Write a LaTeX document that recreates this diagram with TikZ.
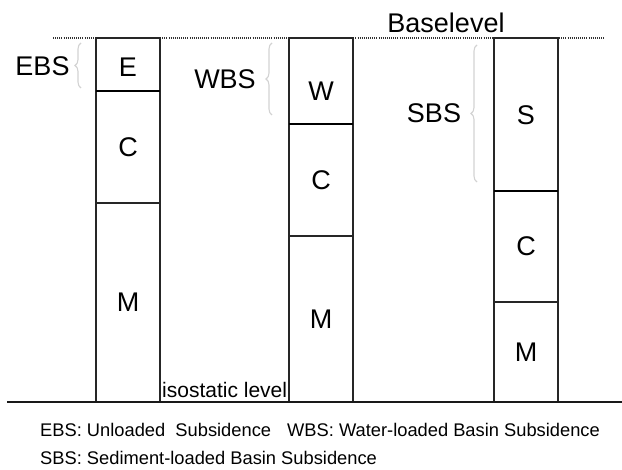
\documentclass[tikz,border=0pt]{standalone}
\usepackage{fontspec}
\setmainfont{Liberation Sans}
\usepackage{xcolor}
\usepackage{tikz}
\usetikzlibrary{decorations.pathreplacing, positioning}
\tikzset{
  borde/.style={draw=black!85, line width=1.3pt},
  capa/.style={font=\fontsize{27}{31}\selectfont, inner sep=0pt},
  llave/.style={draw=gray!35, line width=1.1pt,
    decorate, decoration={brace, amplitude=6pt}},
  leyenda/.style={font=\fontsize{18.3}{21}\selectfont, anchor=base west, inner sep=0pt}
}
\newcommand{\columna}[6]{%
  \draw[borde] (#2,38) rectangle (#2+64,402);
  \draw[line width=2.6pt] (#2,#3) -- (#2+64,#3);
  \draw[borde] (#2,#4) -- (#2+64,#4);
  \node[capa] (#1sup) at (#2+32,#6) {#5};
  \node[capa] (#1c) at (#2+32,{(#3+#4)/2}) {C};
  \node[capa] (#1m) at (#2+32,{(#4+402)/2}) {M};%
}
\newcommand{\llave}[5]{%
  \draw[llave] (#2,#4) -- (#2,#3);
  \node[capa] (#1) at (#5) {#1};%
}

\begin{document}
\begin{tikzpicture}[x=1pt, y=-1pt]
        \useasboundingbox (0,0) rectangle (622,470);
        % nivel de base
        \draw[black!80, line width=1.2pt, dash pattern=on 1pt off 1.1pt] (53,38) -- (604,38);
        \node[capa, anchor=base] (base) at (446,33) {Baselevel};
        % columnas
        \columna{e}{96}{91}{203}{E}{67}
        \columna{w}{289}{124}{236}{W}{91}
        \columna{s}{494}{191}{302}{S}{115}
        % llaves
        \llave{EBS}{81}{43}{88}{42.5,66}
        \llave{WBS}{272}{43}{115}{225,79}
        \llave{SBS}{477}{45}{182}{434,113}
        % nivel isostatico
        \draw[black!90, line width=1.6pt] (7,402) -- (622,402);
        \node[font=\fontsize{21}{24}\selectfont, anchor=base west, inner sep=0pt] (iso) at (162,398) {isostatic level};
        % leyenda
        \node[leyenda] (ley1) at (40,437) {EBS: Unloaded\ \ Subsidence};
        \node[leyenda] (ley2) at (287,437) {WBS: Water-loaded Basin Subsidence};
        \node[leyenda] (ley3) at (40,465) {SBS: Sediment-loaded Basin Subsidence};
      \end{tikzpicture}
\end{document}
